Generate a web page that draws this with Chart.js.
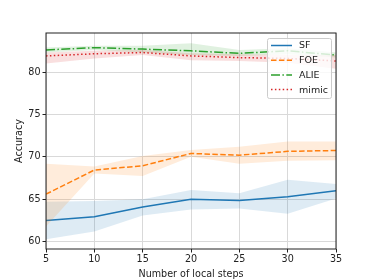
<!DOCTYPE html>
<html>
<head>
<meta charset="utf-8">
<script src="https://cdn.jsdelivr.net/npm/chart.js@4"></script>
<style>
  html, body { margin: 0; padding: 0; background: #fff; }
  #wrap { width: 374px; height: 280px; }
</style>
</head>
<body>
<div id="wrap"><canvas id="myChart" width="374" height="280"></canvas></div>
<script>
// данные
const steps = [5, 10, 15, 20, 25, 30, 35];
const yTicks = [60, 65, 70, 75, 80];

const sfMean = [62.5, 62.95, 64.1, 65.0, 64.85, 65.3, 66.0];
const sfLow = [60.3, 61.2, 63.1, 63.8, 63.9, 63.3, 65.1];
const sfHigh = [64.7, 64.8, 65.0, 66.1, 65.7, 67.3, 66.8];

const foeMean = [65.6, 68.45, 68.95, 70.4, 70.2, 70.65, 70.75];
const foeLow = [61.8, 68.05, 67.75, 70.0, 69.2, 69.55, 69.6];
const foeHigh = [69.2, 68.85, 70.1, 70.8, 71.2, 71.8, 71.8];

const alieMean = [82.6, 82.87, 82.7, 82.5, 82.2, 82.5, 82.0];
const alieLow = [82.3, 82.6, 82.3, 82.0, 81.9, 82.1, 81.7];
const alieHigh = [82.9, 83.1, 83.1, 83.4, 82.6, 82.8, 82.3];

const mimicMean = [81.9, 82.15, 82.3, 81.9, 81.7, 81.6, 81.3];
const mimicLow = [81.0, 81.6, 82.0, 81.4, 81.3, 81.1, 80.4];
const mimicHigh = [82.3, 82.5, 82.6, 82.2, 82.1, 82.0, 82.0];

const series = [
	{ label: "SF", mean: sfMean, low: sfLow, high: sfHigh, color: "#1f77b4", fill: "rgba(31,119,180,0.15)", dash: [] },
	{ label: "FOE", mean: foeMean, low: foeLow, high: foeHigh, color: "#ff7f0e", fill: "rgba(255,127,14,0.15)", dash: [5.5, 2.4] },
	{ label: "ALIE", mean: alieMean, low: alieLow, high: alieHigh, color: "#2ca02c", fill: "rgba(44,160,44,0.15)", dash: [9, 2.4, 1.5, 2.4] },
	{ label: "mimic", mean: mimicMean, low: mimicLow, high: mimicHigh, color: "#d62728", fill: "rgba(214,39,40,0.15)", dash: [1.5, 2.4] },
];

const pts = (arr) => arr.map((v, i) => ({ x: steps[i], y: v }));

const datasets = [];
series.forEach((s, k) => {
	datasets.push({
		label: s.label + "_hi",
		data: pts(s.high),
		borderWidth: 0,
		pointRadius: 0,
		fill: "+1",
		backgroundColor: s.fill,
		order: 100 - k * 3,
	});
	datasets.push({
		label: s.label + "_lo",
		data: pts(s.low),
		borderWidth: 0,
		pointRadius: 0,
		fill: false,
		order: 100 - k * 3 - 1,
	});
	datasets.push({
		label: s.label,
		data: pts(s.mean),
		borderColor: s.color,
		borderWidth: 1.5,
		borderDash: s.dash,
		pointRadius: 0,
		fill: false,
		tension: 0,
		order: 100 - k * 3 - 2,
	});
});

// легенда в правом верхнем углу, как в matplotlib
const legendBox = {
	id: "legendBox",
	afterDraw(chart) {
		const { ctx, chartArea } = chart;
		const x0 = chartArea.right - 69;
		const y0 = chartArea.top + 5;
		const w = 64, h = 60;
		ctx.save();
		ctx.fillStyle = "rgba(255,255,255,0.8)";
		ctx.strokeStyle = "#cccccc";
		ctx.lineWidth = 1;
		ctx.beginPath();
		ctx.roundRect(x0 + 0.5, y0 + 0.5, w, h, 2);
		ctx.fill();
		ctx.stroke();
		ctx.font = "9.5px 'DejaVu Sans'";
		ctx.textBaseline = "middle";
		series.forEach((s, i) => {
			const y = y0 + 7.5 + i * 14.7;
			ctx.strokeStyle = s.color;
			ctx.lineWidth = 1.5;
			ctx.setLineDash(s.dash);
			ctx.beginPath();
			ctx.moveTo(x0 + 4, y);
			ctx.lineTo(x0 + 25, y);
			ctx.stroke();
			ctx.setLineDash([]);
			ctx.fillStyle = "#222";
			ctx.fillText(s.label, x0 + 32, y + 0.5);
		});
		ctx.restore();
	},
};

// рамка осей
const frame = {
	id: "frame",
	afterDatasetsDraw(chart) {
		const { ctx, chartArea } = chart;
		ctx.save();
		ctx.strokeStyle = "#222";
		ctx.lineWidth = 1;
		ctx.strokeRect(chartArea.left, chartArea.top, chartArea.right - chartArea.left, chartArea.bottom - chartArea.top);
		ctx.restore();
	},
};

const font = { family: "'DejaVu Sans'", size: 9.6 };

new Chart(document.getElementById("myChart"), {
	type: "line",
	data: { datasets },
	plugins: [frame, legendBox],
	options: {
		responsive: false,
		animation: false,
		layout: { padding: { top: 33, right: 38, left: 0, bottom: 0 } },
		plugins: {
			legend: { display: false },
			tooltip: { enabled: false },
		},
		scales: {
			x: {
				type: "linear",
				min: 5,
				max: 35,
				afterBuildTicks: (axis) => { axis.ticks = steps.map((v) => ({ value: v })); },
				afterFit: (axis) => { axis.height = 31; },
				grid: { color: "#d9d9d9", lineWidth: 1, tickColor: "#222", tickLength: 3.5 },
				border: { display: false },
				ticks: { color: "#222", font, padding: 1, maxRotation: 0 },
				title: { display: true, text: "Number of local steps", color: "#222", font, padding: { top: 2.5, bottom: 0 } },
			},
			y: {
				min: 59.14,
				max: 84.6,
				afterBuildTicks: (axis) => { axis.ticks = yTicks.map((v) => ({ value: v })); },
				afterFit: (axis) => { axis.width = 46; },
				grid: { color: "#d9d9d9", lineWidth: 1, tickColor: "#222", tickLength: 3.5 },
				border: { display: false },
				ticks: { color: "#222", font, padding: 2 },
				title: { display: true, text: "Accuracy", color: "#222", font, padding: { top: 14, bottom: 0 } },
			},
		},
	},
});
</script>
</body>
</html>
